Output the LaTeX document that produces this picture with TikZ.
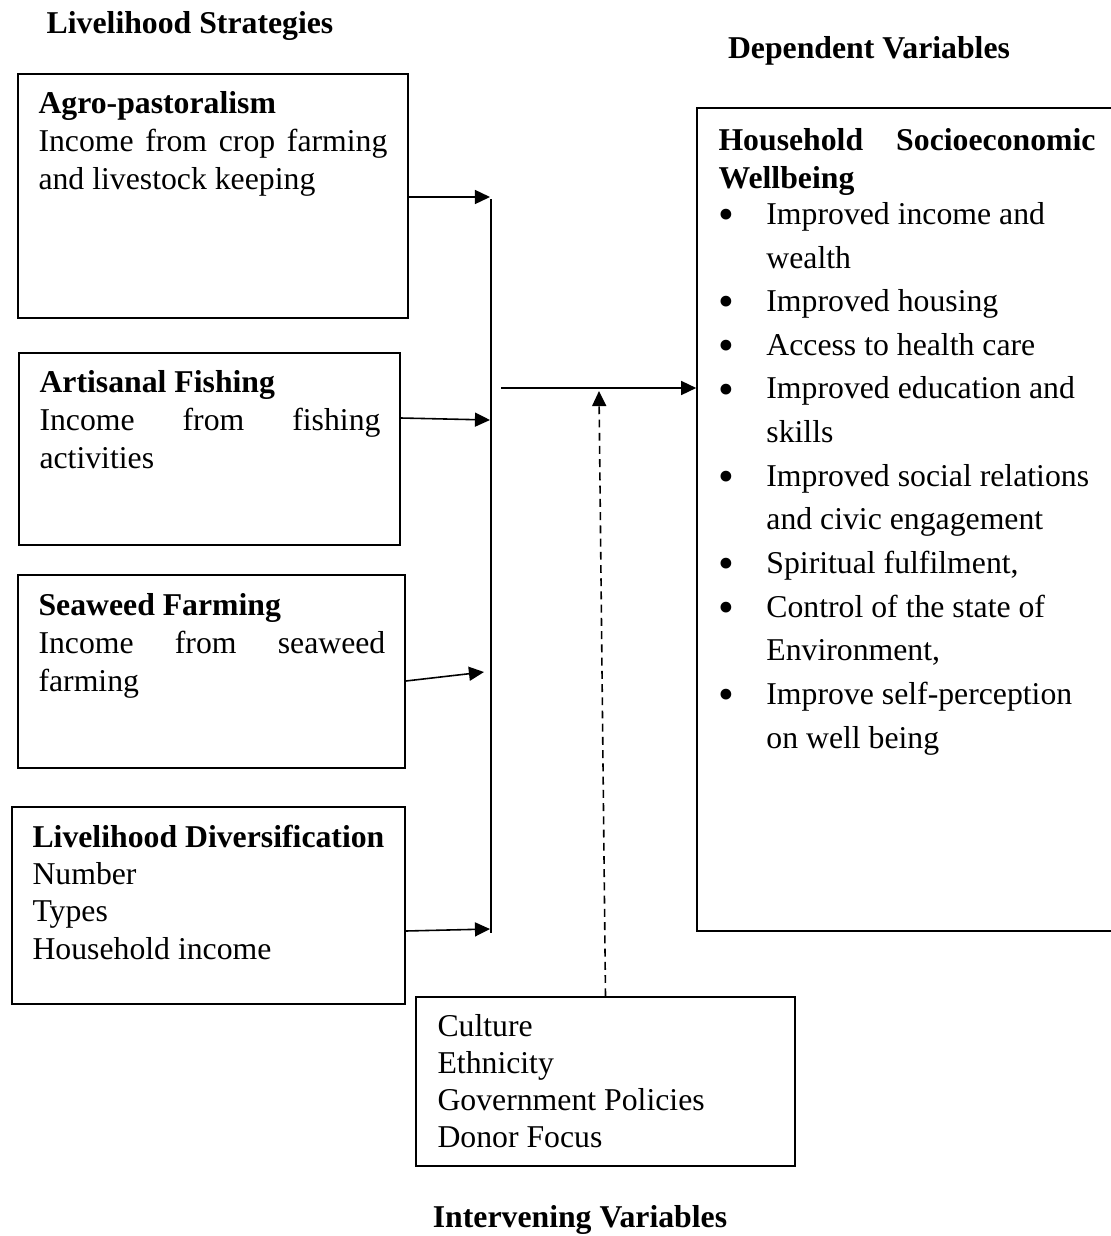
\documentclass[tikz,border=0pt]{standalone}
\usepackage{fontspec}
\setmainfont{Liberation Serif}
\usepackage{tikz}
\usetikzlibrary{arrows.meta,positioning,fit}

\hyphenpenalty=10000
\tolerance=9999
\newcommand{\wbitem}[1]{\par\hangindent=18.1pt\hangafter=1\noindent\makebox[18.1pt][l]{\raisebox{-2pt}{\fontsize{17pt}{17pt}\selectfont\textbullet}}#1}

\begin{document}
\begin{tikzpicture}[
  x=0.378pt, y=-0.378pt,
  font=\fontsize{12pt}{14.3pt}\selectfont,
  box/.style={draw, line width=0.6pt, inner sep=0pt},
  txt/.style={anchor=north west, inner sep=0pt, align=left},
  jtxt/.style={txt, align=justify},
  title/.style={anchor=base, font=\fontsize{12pt}{14.3pt}\selectfont\bfseries},
  arrow/.style={-{Triangle[length=5.7pt,width=5.3pt]}, line width=0.6pt}
]
\useasboundingbox (0,0) rectangle (1110,1236);

\node[title] (strattitle) at (190,33) {Livelihood Strategies};
\node[title] (deptitle) at (869,58) {Dependent Variables};
\node[title] (inttitle) at (580,1227) {Intervening Variables};

\node[box, fit={(18,74) (408,318)}] (agro) {};
\node[box, fit={(19,353) (400,545)}] (fishing) {};
\node[box, fit={(18,575) (405,768)}] (seaweed) {};
\node[box, fit={(12,807) (405,1004)}] (diversif) {};
\node[box, fit={(697,108) (1116,931)}] (wellbeing) {};
\node[box, fit={(416,997) (795,1166)}] (intervening) {};

\node[jtxt, text width=131.9pt] (agrotxt) at (38,91)
  {\textbf{Agro-pastoralism}\par Income from crop farming and livestock keeping\par};
\node[jtxt, text width=128.9pt] (fishtxt) at (39,370)
  {\textbf{Artisanal Fishing}\par Income from fishing activities\par};
\node[jtxt, text width=131.1pt] (seatxt) at (38,593)
  {\textbf{Seaweed Farming}\par Income from seaweed farming\par};
\node[txt, font=\fontsize{12pt}{14pt}\selectfont] (divtxt) at (32,825)
  {\textbf{Livelihood Diversification}\\Number\\Types\\Household income};
\node[jtxt, text width=142.5pt] (wbtxt) at (718,128)
  {\textbf{Household Socioeconomic Wellbeing}\par
   \raggedright\baselineskip=16.5pt\vspace{-2.9pt}
   \wbitem{Improved income and wealth}
   \wbitem{Improved housing}
   \wbitem{Access to health care}
   \wbitem{Improved education and skills}
   \wbitem{Improved social relations and civic engagement}
   \wbitem{Spiritual fulfilment,}
   \wbitem{Control of the state of Environment,}
   \wbitem{Improve self-perception on well being}\par};
\node[txt, font=\fontsize{12pt}{14pt}\selectfont] (inttxt) at (437,1014)
  {Culture\\Ethnicity\\Government Policies\\Donor Focus};

\coordinate (bustop) at (491,199);
\coordinate (busbot) at (491,933);
\coordinate (in1) at (490,197);
\coordinate (in2) at (490,420);
\coordinate (in3) at (484,672);
\coordinate (in4) at (490,929);
\coordinate (hubout) at (501,388);
\coordinate (dashend) at (599,391);

\draw[line width=0.6pt] (bustop) -- (busbot);
\draw[arrow] (agro.east |- in1) -- (in1);
\draw[arrow] (fishing.east |- 0,418) -- (in2);
\draw[arrow] (seaweed.east |- 0,681) -- (in3);
\draw[arrow] (diversif.east |- 0,931) -- (in4);
\draw[arrow] (hubout) -- (wellbeing.west |- hubout);
\draw[arrow, dash pattern=on 3pt off 2pt] (intervening.north) -- (dashend);
\end{tikzpicture}
\end{document}
